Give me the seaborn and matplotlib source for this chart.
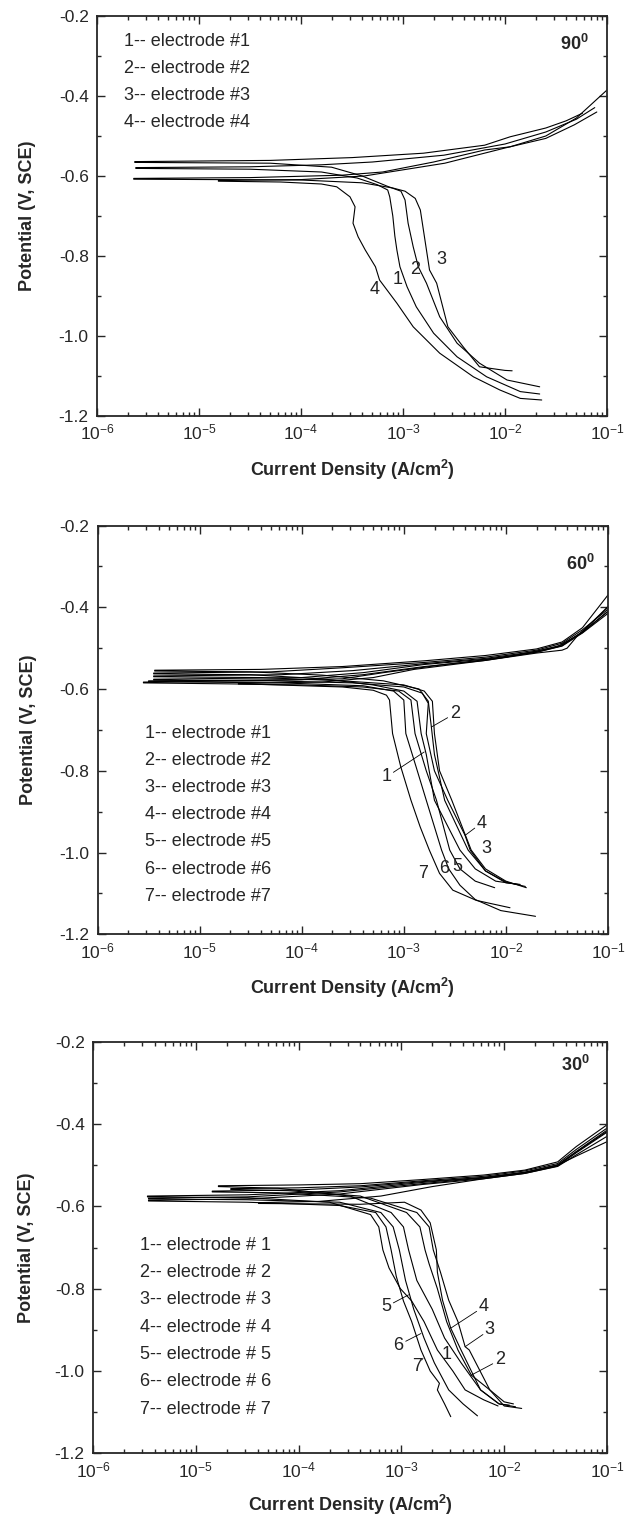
import numpy as np
import pandas as pd
import matplotlib
matplotlib.use("Agg")
import matplotlib.pyplot as plt
from matplotlib.ticker import LogLocator, MultipleLocator, FormatStrFormatter, NullFormatter
import seaborn as sns

# ---------------------------------------------------------------------------
# Potentiodynamic polarization curves: (log10 current density [A/cm2], potential [V vs SCE])
# Each path runs from the cathodic end, up to the corrosion potential, then out
# along the anodic branch.
# ---------------------------------------------------------------------------

# --- 90 degree orientation ---
A90_E1 = [(-1.66, -1.145), (-1.85, -1.139), (-2.18, -1.102), (-2.47, -1.052), (-2.70, -0.993),
          (-2.87, -0.927), (-2.96, -0.877), (-3.03, -0.827), (-3.06, -0.785), (-3.08, -0.750),
          (-3.10, -0.700), (-3.13, -0.652), (-3.15, -0.635), (-3.25, -0.622), (-3.45, -0.605),
          (-3.80, -0.590), (-4.50, -0.583), (-5.62, -0.581),
          (-5.62, -0.579), (-4.50, -0.577), (-3.80, -0.572), (-3.30, -0.565), (-2.60, -0.548),
          (-2.00, -0.520), (-1.60, -0.490), (-1.30, -0.458), (-1.12, -0.429)]
A90_E2 = [(-1.66, -1.127), (-1.98, -1.110), (-2.25, -1.068), (-2.47, -1.018), (-2.64, -0.952),
          (-2.77, -0.868), (-2.85, -0.827), (-2.90, -0.777), (-2.95, -0.718), (-2.98, -0.660),
          (-3.02, -0.638), (-3.15, -0.626), (-3.40, -0.600), (-3.70, -0.578), (-4.30, -0.568),
          (-5.63, -0.566),
          (-5.63, -0.564), (-4.30, -0.561), (-3.50, -0.554), (-2.80, -0.543), (-2.20, -0.523),
          (-1.95, -0.502), (-1.60, -0.480), (-1.40, -0.462), (-1.24, -0.443)]
A90_E3 = [(-1.93, -1.087), (-2.00, -1.086), (-2.25, -1.077), (-2.41, -1.027), (-2.56, -0.977),
          (-2.67, -0.868), (-2.74, -0.835), (-2.77, -0.785), (-2.80, -0.735), (-2.83, -0.685),
          (-2.88, -0.656), (-2.98, -0.638), (-3.10, -0.630), (-3.40, -0.617), (-4.00, -0.610),
          (-5.64, -0.608),
          (-5.64, -0.606), (-4.50, -0.604), (-3.60, -0.598), (-3.20, -0.590), (-2.70, -0.565),
          (-2.20, -0.535), (-1.95, -0.527), (-1.60, -0.500), (-1.30, -0.455), (-1.00, -0.385)]
A90_E4 = [(-1.64, -1.160), (-1.85, -1.156), (-2.05, -1.135), (-2.31, -1.102), (-2.64, -1.043),
          (-2.90, -0.977), (-3.06, -0.918), (-3.23, -0.860), (-3.27, -0.827), (-3.37, -0.785),
          (-3.44, -0.752), (-3.49, -0.718), (-3.47, -0.677), (-3.52, -0.652), (-3.65, -0.627),
          (-3.80, -0.620), (-4.20, -0.615), (-4.81, -0.613),
          (-4.81, -0.611), (-4.00, -0.609), (-3.38, -0.600), (-2.59, -0.568), (-2.00, -0.530),
          (-1.60, -0.506), (-1.32, -0.472), (-1.10, -0.440)]

# --- 60 degree orientation ---
A60_E1 = [(-1.88, -1.078), (-2.10, -1.070), (-2.30, -1.040), (-2.45, -0.994), (-2.70, -0.872),
          (-2.78, -0.760), (-2.83, -0.709), (-2.87, -0.630), (-3.00, -0.605), (-3.30, -0.590),
          (-3.80, -0.575), (-4.50, -0.565), (-5.45, -0.563),
          (-5.45, -0.561), (-4.30, -0.558), (-3.60, -0.548), (-2.80, -0.535), (-2.20, -0.522),
          (-1.70, -0.505), (-1.45, -0.488), (-1.25, -0.455), (-1.00, -0.405)]
A60_E2 = [(-1.81, -1.083), (-2.00, -1.072), (-2.20, -1.045), (-2.37, -0.994), (-2.60, -0.872),
          (-2.70, -0.760), (-2.73, -0.693), (-2.76, -0.630), (-2.85, -0.600), (-3.20, -0.580),
          (-3.80, -0.566), (-4.50, -0.558), (-5.44, -0.556),
          (-5.44, -0.554), (-4.40, -0.552), (-3.60, -0.545), (-2.80, -0.531), (-2.20, -0.518),
          (-1.70, -0.502), (-1.45, -0.485), (-1.25, -0.450), (-1.00, -0.370)]
A60_E3 = [(-1.80, -1.086), (-2.00, -1.070), (-2.20, -1.040), (-2.34, -0.994), (-2.53, -0.872),
          (-2.65, -0.800), (-2.70, -0.709), (-2.72, -0.630), (-2.80, -0.605), (-3.00, -0.590),
          (-3.60, -0.580), (-4.40, -0.572), (-5.45, -0.570),
          (-5.45, -0.568), (-4.20, -0.565), (-3.50, -0.555), (-2.80, -0.538), (-2.20, -0.525),
          (-1.70, -0.508), (-1.45, -0.492), (-1.25, -0.460), (-1.00, -0.410)]
A60_E4 = [(-1.86, -1.078), (-2.00, -1.074), (-2.20, -1.045), (-2.35, -0.994), (-2.40, -0.958),
          (-2.57, -0.872), (-2.70, -0.800), (-2.78, -0.709), (-2.76, -0.635), (-2.82, -0.610),
          (-3.00, -0.595), (-3.50, -0.585), (-4.30, -0.580), (-5.45, -0.578),
          (-5.45, -0.576), (-4.00, -0.572), (-3.40, -0.560), (-2.80, -0.540), (-2.20, -0.527),
          (-1.70, -0.510), (-1.45, -0.495), (-1.25, -0.463), (-1.00, -0.415)]
A60_E5 = [(-2.11, -1.086), (-2.30, -1.070), (-2.45, -1.040), (-2.55, -0.994), (-2.68, -0.872),
          (-2.78, -0.800), (-2.89, -0.709), (-2.93, -0.627), (-3.05, -0.605), (-3.40, -0.595),
          (-4.00, -0.590), (-4.62, -0.588),
          (-4.62, -0.586), (-3.80, -0.583), (-3.30, -0.572), (-2.90, -0.552), (-2.20, -0.530),
          (-1.70, -0.512), (-1.45, -0.505), (-1.40, -0.500), (-1.30, -0.470), (-1.00, -0.400)]
A60_E6 = [(-1.71, -1.156), (-2.05, -1.142), (-2.30, -1.115), (-2.45, -1.080), (-2.56, -1.040),
          (-2.63, -0.994), (-2.70, -0.937), (-2.78, -0.872), (-2.88, -0.790), (-2.98, -0.709),
          (-3.00, -0.627), (-3.10, -0.605), (-3.40, -0.592), (-4.20, -0.585), (-5.50, -0.582),
          (-5.50, -0.580), (-4.00, -0.577), (-3.40, -0.565), (-2.80, -0.545), (-2.20, -0.530),
          (-1.70, -0.510), (-1.45, -0.494), (-1.25, -0.460), (-1.00, -0.398)]
A60_E7 = [(-1.96, -1.135), (-2.29, -1.117), (-2.52, -1.092), (-2.65, -1.051), (-2.75, -0.994),
          (-2.84, -0.937), (-2.93, -0.872), (-3.03, -0.790), (-3.11, -0.709), (-3.14, -0.627),
          (-3.17, -0.615), (-3.30, -0.603), (-3.60, -0.595), (-4.50, -0.588), (-5.55, -0.585),
          (-5.55, -0.583), (-4.50, -0.580), (-3.60, -0.575), (-3.20, -0.560), (-2.60, -0.540),
          (-2.00, -0.522), (-1.50, -0.497), (-1.25, -0.462), (-1.00, -0.410)]

# --- 30 degree orientation ---
A30_E1 = [(-1.89, -1.087), (-2.05, -1.080), (-2.23, -1.046), (-2.42, -0.980), (-2.58, -0.920),
          (-2.70, -0.850), (-2.85, -0.780), (-2.93, -0.706), (-2.98, -0.650), (-3.10, -0.615),
          (-3.50, -0.575), (-4.20, -0.556), (-4.78, -0.552),
          (-4.78, -0.550), (-4.00, -0.548), (-3.40, -0.545), (-2.80, -0.535), (-2.20, -0.524),
          (-1.80, -0.512), (-1.48, -0.492), (-1.30, -0.455), (-1.00, -0.402)]
A30_E2 = [(-1.83, -1.091), (-2.00, -1.085), (-2.14, -1.046), (-2.32, -1.010), (-2.45, -0.949),
          (-2.56, -0.880), (-2.65, -0.800), (-2.73, -0.740), (-2.77, -0.706), (-2.82, -0.650),
          (-2.95, -0.615), (-3.40, -0.575), (-4.10, -0.562), (-4.66, -0.559),
          (-4.66, -0.557), (-4.00, -0.555), (-3.40, -0.550), (-2.80, -0.538), (-2.20, -0.527),
          (-1.80, -0.514), (-1.48, -0.496), (-1.30, -0.462), (-1.00, -0.410)]
A30_E3 = [(-1.91, -1.080), (-2.00, -1.075), (-2.14, -1.046), (-2.34, -0.949), (-2.38, -0.941),
          (-2.45, -0.880), (-2.54, -0.828), (-2.62, -0.760), (-2.69, -0.706), (-2.73, -0.650),
          (-2.85, -0.615), (-3.30, -0.580), (-4.20, -0.567), (-4.84, -0.565),
          (-4.84, -0.563), (-4.00, -0.560), (-3.40, -0.553), (-2.80, -0.540), (-2.20, -0.530),
          (-1.80, -0.517), (-1.48, -0.500), (-1.30, -0.468), (-1.00, -0.418)]
A30_E4 = [(-1.95, -1.083), (-2.05, -1.080), (-2.23, -1.046), (-2.42, -0.949), (-2.52, -0.896),
          (-2.60, -0.828), (-2.65, -0.760), (-2.66, -0.706), (-2.72, -0.640), (-2.81, -0.609),
          (-2.97, -0.590), (-3.40, -0.595), (-4.39, -0.593),
          (-4.39, -0.591), (-3.80, -0.588), (-3.20, -0.575), (-2.70, -0.552), (-2.20, -0.533),
          (-1.80, -0.520), (-1.48, -0.503), (-1.30, -0.475), (-1.00, -0.430)]
A30_E5 = [(-2.06, -1.085), (-2.20, -1.070), (-2.38, -1.046), (-2.50, -1.000), (-2.65, -0.949),
          (-2.78, -0.880), (-2.90, -0.830), (-3.01, -0.800), (-3.12, -0.750), (-3.18, -0.706),
          (-3.22, -0.650), (-3.30, -0.620), (-3.70, -0.590), (-4.50, -0.579), (-5.47, -0.577),
          (-5.47, -0.575), (-4.50, -0.572), (-3.60, -0.562), (-2.80, -0.542), (-2.20, -0.530),
          (-1.80, -0.518), (-1.48, -0.500), (-1.30, -0.478), (-1.00, -0.443)]
A30_E6 = [(-2.26, -1.109), (-2.40, -1.080), (-2.54, -1.046), (-2.68, -0.980), (-2.78, -0.920),
          (-2.88, -0.850), (-2.96, -0.780), (-3.02, -0.706), (-3.08, -0.650), (-3.20, -0.615),
          (-3.60, -0.590), (-4.50, -0.584), (-5.46, -0.582),
          (-5.46, -0.580), (-4.50, -0.577), (-3.60, -0.565), (-2.80, -0.545), (-2.20, -0.531),
          (-1.80, -0.518), (-1.48, -0.499), (-1.30, -0.467), (-1.00, -0.415)]
A30_E7 = [(-2.52, -1.111), (-2.58, -1.080), (-2.65, -1.046), (-2.63, -1.030), (-2.72, -1.000),
          (-2.81, -0.949), (-2.90, -0.880), (-2.98, -0.830), (-3.05, -0.770), (-3.10, -0.706),
          (-3.15, -0.650), (-3.25, -0.615), (-3.60, -0.598), (-4.50, -0.590), (-5.46, -0.587),
          (-5.46, -0.585), (-4.50, -0.582), (-3.60, -0.570), (-2.80, -0.547), (-2.20, -0.533),
          (-1.80, -0.520), (-1.48, -0.502), (-1.30, -0.470), (-1.00, -0.420)]

# Legend entries and curve-number labels
LEGEND_90 = ["1-- electrode #1", "2-- electrode #2", "3-- electrode #3", "4-- electrode #4"]
LEGEND_60 = ["1-- electrode #1", "2-- electrode #2", "3-- electrode #3", "4-- electrode #4",
             "5-- electrode #5", "6-- electrode #6", "7-- electrode #7"]
LEGEND_30 = ["1-- electrode # 1", "2-- electrode # 2", "3-- electrode # 3", "4-- electrode # 4",
             "5-- electrode # 5", "6-- electrode # 6", "7-- electrode # 7"]

# (text, label position, leader end on curve or None), in (log10 i, E)
TAGS_90 = [("4", (-3.28, -0.883), None), ("1", (-3.05, -0.860), None),
           ("2", (-2.88, -0.835), None), ("3", (-2.62, -0.810), None)]
TAGS_60 = [("1", (-3.17, -0.815), (-2.80, -0.754)), ("2", (-2.50, -0.660), (-2.73, -0.693)),
           ("4", (-2.24, -0.928), (-2.40, -0.958)), ("3", (-2.19, -0.990), None),
           ("7", (-2.81, -1.051), None), ("6", (-2.60, -1.039), None), ("5", (-2.48, -1.035), None)]
TAGS_30 = [("5", (-3.15, -0.844), (-2.93, -0.815)), ("4", (-2.20, -0.844), (-2.52, -0.896)),
           ("3", (-2.14, -0.900), (-2.38, -0.941)), ("6", (-3.03, -0.937), (-2.81, -0.909)),
           ("1", (-2.56, -0.961), None), ("7", (-2.85, -0.990), (-2.79, -0.969)),
           ("2", (-2.04, -0.973), (-2.32, -1.010))]

sns.set_style("ticks")
plt.rcParams["font.family"] = ["Liberation Sans", "DejaVu Sans"]
plt.rcParams["mathtext.fontset"] = "custom"
plt.rcParams["mathtext.rm"] = "Liberation Sans"
plt.rcParams["mathtext.it"] = "Liberation Sans:italic"
plt.rcParams["mathtext.bf"] = "Liberation Sans:bold"
plt.rcParams["axes.unicode_minus"] = False

W, H = 627, 1517
fig = plt.figure(figsize=(W / 100, H / 100), dpi=100)

# axes boxes in pixels: left, right, top, bottom
boxes = [(97, 607, 16, 416), (97.5, 608, 525.5, 934.3), (93, 607, 1041.7, 1453.3)]


def make_axes(box):
    l, r, t, b = box
    return fig.add_axes([l / W, 1 - b / H, (r - l) / W, (b - t) / H])


def draw_panel(ax, curves, legend, tags, angle, leg_xy, angle_xy, ylab_x, xlab_y):
    ax.set_xscale("log")
    for path in curves:
        arr = np.array(path)
        df = pd.DataFrame({"i": np.power(10.0, arr[:, 0]), "E": arr[:, 1]})
        sns.lineplot(data=df, x="i", y="E", sort=False, estimator=None,
                     color="black", linewidth=0.8, ax=ax)
    ax.set_xlim(1e-6, 1e-1)
    ax.set_ylim(-1.2, -0.2)
    ax.xaxis.set_major_locator(LogLocator(base=10, numticks=10))
    ax.xaxis.set_minor_locator(LogLocator(base=10, subs=np.arange(2, 10), numticks=20))
    ax.xaxis.set_minor_formatter(NullFormatter())
    ax.yaxis.set_major_locator(MultipleLocator(0.2))
    ax.yaxis.set_minor_locator(MultipleLocator(0.1))
    ax.yaxis.set_major_formatter(FormatStrFormatter("%.1f"))
    ax.tick_params(which="both", direction="in", top=True, right=True, labelsize=12.5, width=1.0)
    ax.tick_params(which="major", length=6)
    ax.tick_params(which="minor", length=3)
    ax.tick_params(axis="y", which="major", pad=6)
    ax.tick_params(axis="x", which="major", pad=5)
    for s in ax.spines.values():
        s.set_linewidth(1.3)
    ax.set_xlabel("Current Density (A/cm$^\\mathbf{2}$)", fontsize=13, fontweight="bold")
    ax.set_ylabel("Potential (V, SCE)", fontsize=13, fontweight="bold")
    ax.xaxis.set_label_coords(0.5, xlab_y)
    ax.xaxis.label.set_va("center")
    ax.yaxis.set_label_coords(ylab_x, 0.5)
    ax.yaxis.label.set_va("center")
    x0, y0, dy = leg_xy
    for k, txt in enumerate(legend):
        ax.text(x0, y0 - k * dy, txt, transform=ax.transAxes, fontsize=13,
                ha="left", va="center")
    ax.text(angle_xy[0], angle_xy[1], angle + "$^\\mathbf{0}$", transform=ax.transAxes,
            fontsize=13, fontweight="bold", ha="right", va="center")
    for txt, (lx, ly), tip in tags:
        if tip is not None:
            ax.annotate("", xy=(10 ** tip[0], tip[1]), xytext=(10 ** lx, ly),
                        arrowprops=dict(arrowstyle="-", lw=0.6, color="black",
                                        shrinkA=6, shrinkB=0))
        ax.text(10 ** lx, ly, txt, fontsize=13, ha="center", va="center",
                color="#222222")


ax1 = make_axes(boxes[0])
draw_panel(ax1, [A90_E1, A90_E2, A90_E3, A90_E4], LEGEND_90, TAGS_90, "90",
           (0.052, 0.936, 0.0675), (0.965, 0.93), -0.137, -0.135)

ax2 = make_axes(boxes[1])
draw_panel(ax2, [A60_E1, A60_E2, A60_E3, A60_E4, A60_E5, A60_E6, A60_E7], LEGEND_60, TAGS_60, "60",
           (0.094, 0.492, 0.0665), (0.975, 0.907), -0.136, -0.132)

ax3 = make_axes(boxes[2])
draw_panel(ax3, [A30_E1, A30_E2, A30_E3, A30_E4, A30_E5, A30_E6, A30_E7], LEGEND_30, TAGS_30, "30",
           (0.091, 0.506, 0.0665), (0.967, 0.943), -0.13, -0.126)

fig.savefig("out.png", dpi=100)
